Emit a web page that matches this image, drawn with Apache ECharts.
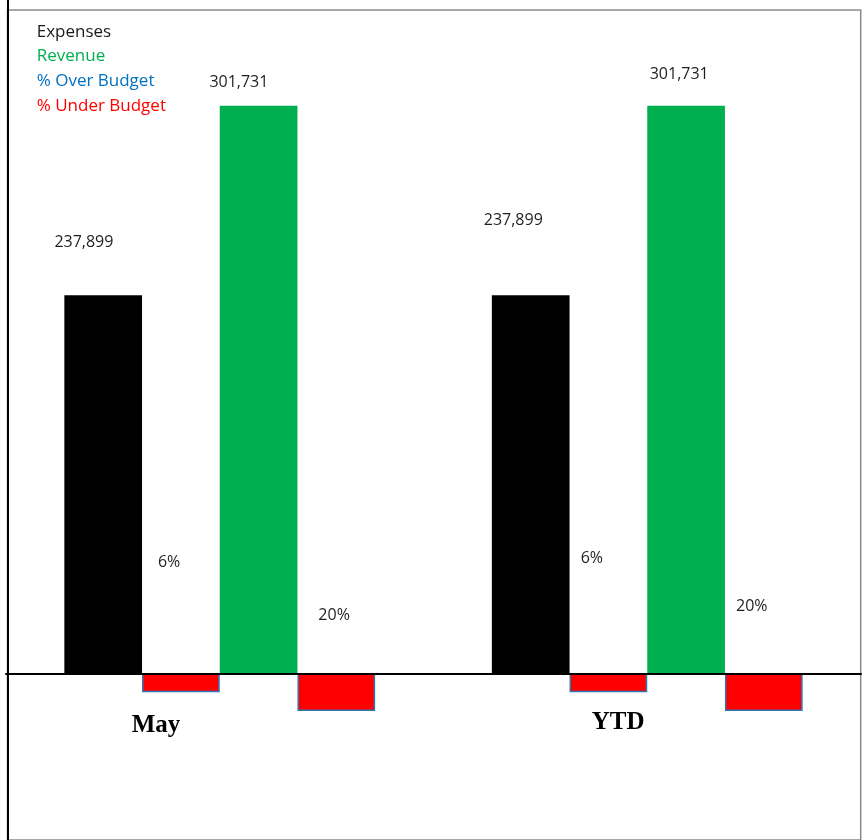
<!DOCTYPE html>
<html>
<head>
<meta charset="utf-8">
<script src="https://cdn.jsdelivr.net/npm/echarts@6/dist/echarts.min.js"></script>
<style>
  html, body { margin: 0; padding: 0; background: #ffffff; }
  #chart { width: 865px; height: 840px; }
</style>
</head>
<body>
<div id="chart"></div>
<script>
// Data
const categories = ['May', 'YTD'];
const expenses = [237899, 237899];
const revenue = [301731, 301731];
const overBudgetPct = [6, 6];
const underBudgetPct = [20, 20];

// Label placement (pixel offsets from each bar's top edge)
const expLabelOffsets = [[-19.3, -52.4], [-17.4, -75.2]];
const revLabelOffsets = [[-19.7, -23.7], [-6.9, -31]];
const overLabelOffsets = [[-11.8, -111.3], [-16.5, -114.5]];
const underLabelOffsets = [[-2.2, -58.3], [-12, -67.3]];
// Category label boxes: [line height (text sits mid-line), right padding]
const catLabelBoxes = [[104.4, 127.6], [98.2, 58.4]];

const labelFont = { fontFamily: 'Open Sans', fontSize: 16, color: '#1f1f1f' };
const barW = 77.7;

function items(values, offsets) {
  return values.map((v, i) => ({ value: v, label: { offset: offsets[i] } }));
}

function barLabel(fmt) {
  return Object.assign({
    show: true, position: 'top', distance: 0, verticalAlign: 'middle', align: 'center',
    formatter: fmt
  }, labelFont);
}

const moneyFmt = p => Number(p.value).toLocaleString('en-US');
const pctFmt = p => p.value + '%';

const pctItemStyle = { color: '#FF0000', borderColor: '#2E75B6', borderWidth: 1.5 };

const rich = {};
catLabelBoxes.forEach((box, i) => {
  rich['c' + i] = {
    fontFamily: 'Liberation Serif', fontWeight: 'bold', fontSize: 25, lineHeight: box[0],
    color: '#000', padding: [0, box[1], 0, 0]
  };
});

const chart = echarts.init(document.getElementById('chart'), null, { renderer: 'canvas' });

chart.setOption({
  animation: false,
  backgroundColor: '#ffffff',
  legend: {
    orient: 'vertical', left: 31.7, top: 21.9, padding: 0,
    itemWidth: 0, itemHeight: 14, itemGap: 4.67, selectedMode: false,
    textStyle: { fontFamily: 'Open Sans', fontSize: 17, lineHeight: 20 },
    data: [
      { name: 'Expenses', icon: 'none', textStyle: { color: '#1a1a1a' } },
      { name: 'Revenue', icon: 'none', textStyle: { color: '#00B050' } },
      { name: '% Over Budget', icon: 'none', textStyle: { color: '#0070C0' } },
      { name: '% Under Budget', icon: 'none', textStyle: { color: '#FF0000' } }
    ]
  },
  grid: [
    // plot area, baseline at its bottom edge
    { left: 6, right: 4, top: 10, bottom: 166.7 },
    // outer frame (top and right edges)
    { left: 7.5, right: 4.3, top: 10, bottom: -3, show: true, borderColor: '#8a8a8a', borderWidth: 1.5 },
    // full-height left rule
    { left: 7.5, right: 4, top: 0, bottom: 0 }
  ],
  xAxis: [
    {
      type: 'category', gridIndex: 0, data: categories, z: 5,
      axisLine: { show: true, onZero: false, lineStyle: { color: '#000', width: 2 } },
      axisTick: { show: false },
      axisLabel: {
        interval: 0, margin: 0, verticalAlign: 'top',
        formatter: (v, i) => '{c' + i + '|' + v + '}',
        rich: rich
      }
    },
    { type: 'value', gridIndex: 1, show: false },
    { type: 'value', gridIndex: 2, show: false }
  ],
  yAxis: [
    { type: 'value', gridIndex: 0, min: 110540, max: 333970, show: false },
    { type: 'value', gridIndex: 0, inverse: true, min: -504.7, max: -8.2, startValue: -8.2, show: false },
    { type: 'value', gridIndex: 1, show: false },
    {
      type: 'value', gridIndex: 2, z: 6,
      axisLine: { show: true, lineStyle: { color: '#000', width: 2 } },
      axisTick: { show: false }, axisLabel: { show: false }, splitLine: { show: false }
    }
  ],
  series: [
    {
      name: 'Expenses', type: 'bar', xAxisIndex: 0, yAxisIndex: 0,
      barWidth: barW, barGap: '0%',
      itemStyle: { color: '#000000' },
      label: barLabel(moneyFmt),
      data: items(expenses, expLabelOffsets)
    },
    {
      name: '% Over Budget', type: 'bar', xAxisIndex: 0, yAxisIndex: 1, clip: false,
      barWidth: barW, barGap: '0%',
      itemStyle: pctItemStyle,
      label: barLabel(pctFmt),
      data: items(overBudgetPct, overLabelOffsets)
    },
    {
      name: 'Revenue', type: 'bar', xAxisIndex: 0, yAxisIndex: 0,
      barWidth: barW, barGap: '0%',
      itemStyle: { color: '#00B050' },
      label: barLabel(moneyFmt),
      data: items(revenue, revLabelOffsets)
    },
    {
      name: '% Under Budget', type: 'bar', xAxisIndex: 0, yAxisIndex: 1, clip: false,
      barWidth: barW, barGap: '0%',
      itemStyle: pctItemStyle,
      label: barLabel(pctFmt),
      data: items(underBudgetPct, underLabelOffsets)
    }
  ]
});
</script>
</body>
</html>
